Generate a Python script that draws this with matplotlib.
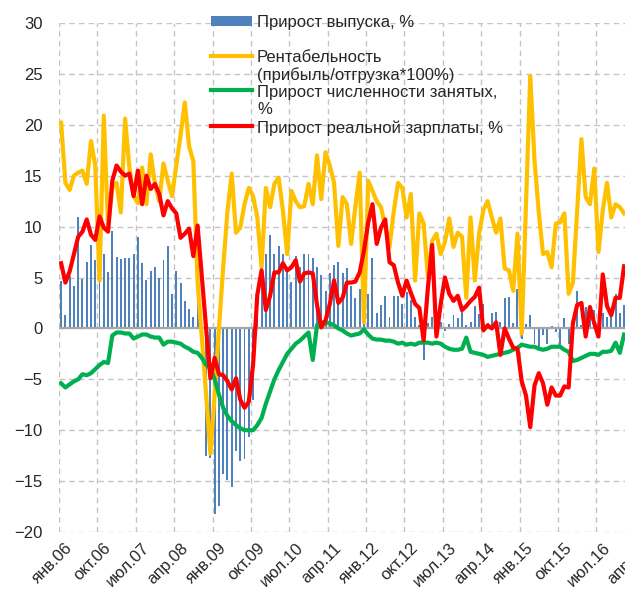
import matplotlib
matplotlib.use('Agg')
import matplotlib.pyplot as plt
import matplotlib.transforms as mtransforms
from matplotlib.lines import Line2D
from matplotlib.patches import Rectangle
import numpy as np

plt.rcParams['font.family'] = ['Liberation Sans', 'DejaVu Sans']

# ---- data (monthly, Jan 2006 .. Jan 2017) ----
output_growth = [
    4.7, 1.3, 5.1, 4.2, 10.9, 4.9, 6.5, 8.2, 6.7, 6.8,
    7.3, 5.5, 9.6, 7.0, 6.8, 6.9, 6.9, 7.3, 9.0, 6.4,
    4.8, 5.6, 6.0, 5.0, 6.7, 8.1, 3.4, 5.6, 4.5, 2.7,
    1.9, 1.1, 2.7, -1.7, -12.5, -12.7, -18.2, -17.4, -14.3, -14.9,
    -15.6, -12.0, -13.0, -12.8, -10.7, -7.0, 3.6, 8.5, 7.3, 9.2,
    7.3, 8.1, 7.3, 6.0, 4.6, 7.1, 6.0, 7.3, 7.3, 6.9,
    6.0, 5.2, 3.7, 5.4, 6.2, 6.5, 5.4, 5.9, 4.2, 3.0,
    3.9, 1.5, 3.4, 6.9, 1.5, 2.3, 3.2, 1.1, 3.2, 3.2,
    2.4, 3.6, 2.8, 1.1, 0.3, -3.1, 0.5, 1.1, 0.3, 0.6,
    -0.3, 0.4, 1.3, 1.0, 2.1, 0.3, 0.6, 2.2, 1.4, 2.4,
    0.5, 1.5, 1.6, 0.6, 3.0, 3.1, 0.5, 3.9, -1.0, 0.4,
    1.3, -1.5, -2.1, -0.6, -1.5, 0.2, -0.4, -1.9, 1.0, -1.5,
    -0.5, 3.7, 0.3, 2.1, 1.9, 1.8, 0.2, 1.5, 1.1, 1.8,
    3.4, 1.5, 2.3,
]
profitability = [
    20.2, 14.3, 13.6, 15.0, 15.3, 15.5, 14.2, 18.4, 16.0, 4.7,
    20.9, 10.0, 13.8, 14.3, 11.4, 20.6, 15.8, 13.0, 12.3, 15.8,
    12.2, 17.1, 14.2, 12.5, 16.2, 14.5, 13.0, 16.0, 19.0, 22.2,
    17.9, 16.4, 4.5, -1.0, -6.5, -12.3, -6.5, 0.0, 6.0, 11.5,
    15.2, 9.4, 9.9, 12.2, 13.8, 13.0, 10.9, 6.0, 13.8, 11.9,
    14.2, 14.8, 11.6, 7.3, 13.5, 12.5, 11.9, 12.0, 14.2, 12.2,
    17.0, 12.7, 17.3, 16.0, 14.3, 8.1, 12.9, 12.2, 8.3, 12.0,
    15.3, 0.6, 14.5, 13.5, 12.5, 11.9, 10.0, 8.0, 11.5, 14.3,
    13.8, 10.9, 13.2, 4.7, 11.3, 10.3, 5.0, 8.6, 9.3, 7.3,
    8.5, 10.8, 8.0, 9.4, 9.0, 3.0, 10.9, 4.7, 9.3, 11.6,
    12.5, 10.9, 9.4, 10.8, 5.9, 5.7, 3.7, 9.3, -0.5, 12.0,
    24.8, 16.5, 11.4, 7.3, 7.5, 6.0, 10.3, 10.4, 11.3, 3.4,
    4.5, 11.5, 18.6, 12.9, 12.2, 15.7, 7.5, 11.6, 14.3, 10.9,
    12.2, 11.9, 11.3,
]
employment = [
    -5.4, -5.8, -5.5, -5.2, -5.0, -4.5, -4.6, -4.4, -4.0, -3.6,
    -3.3, -3.4, -0.7, -0.4, -0.4, -0.5, -0.5, -1.0, -0.8, -0.6,
    -0.6, -0.8, -0.9, -0.9, -1.6, -1.3, -1.3, -1.4, -1.5, -1.8,
    -2.0, -2.3, -2.4, -2.9, -3.6, -3.9, -5.0, -6.5, -7.8, -8.6,
    -9.1, -9.5, -9.8, -10.0, -10.0, -10.0, -9.5, -8.8, -7.4, -6.2,
    -5.0, -4.1, -3.3, -2.5, -2.0, -1.5, -1.2, -0.8, -0.4, -3.1,
    0.3, 0.6, 0.6, 0.5, 0.3, 0.0, -0.2, -0.5, -0.7, -0.6,
    -0.5, -0.1, -0.6, -1.0, -1.1, -1.1, -1.2, -1.2, -1.3, -1.5,
    -1.4, -1.6, -1.5, -1.6, -1.4, -1.4, -1.4, -1.5, -1.4, -1.5,
    -1.8, -2.0, -2.1, -2.1, -2.0, -0.9, -2.3, -2.4, -2.5, -2.6,
    -2.8, -2.7, -2.6, -2.5, -2.4, -2.3, -2.1, -1.9, -1.6, -1.7,
    -1.8, -1.8, -2.0, -2.1, -2.0, -1.8, -1.8, -1.8, -2.1, -2.3,
    -3.2, -3.1, -2.9, -2.7, -2.5, -2.5, -2.6, -2.3, -2.3, -2.2,
    -1.4, -2.4, -0.6,
]
real_wage = [
    6.4, 4.5, 5.6, 7.3, 9.0, 9.5, 10.7, 9.2, 8.7, 11.0,
    9.9, 9.5, 14.5, 16.0, 15.4, 15.0, 15.2, 13.0, 15.5, 12.2,
    15.0, 13.7, 14.2, 13.2, 11.1, 12.5, 11.8, 11.3, 8.9, 9.3,
    9.8, 7.1, 10.1, 5.0, 0.0, -4.9, -2.9, -4.5, -4.6, -5.2,
    -6.0, -4.9, -7.0, -7.8, -7.2, -3.6, 3.3, 5.7, 1.8, 3.2,
    5.5, 5.5, 6.4, 5.7, 6.0, 6.7, 4.6, 5.4, 5.5, 5.4,
    2.3, 0.1, 0.8, 2.4, 4.7, 2.5, 3.0, 4.5, 4.5, 4.6,
    5.5, 7.6, 10.4, 12.2, 8.3, 9.9, 10.7, 6.5, 6.2, 4.5,
    3.2, 4.7, 3.5, 2.4, 2.0, -1.2, 4.0, 8.2, -0.8, 2.4,
    5.0, 3.4, 2.7, 3.2, 1.8, 2.2, 2.7, 3.1, 4.0, -0.2,
    0.3, 0.0, 0.6, -2.6, 0.0, -1.0, -1.9, -2.0, -5.2, -6.6,
    -9.7, -5.6, -4.4, -5.4, -7.5, -5.8, -6.6, -6.6, -5.7, -5.8,
    0.5, 2.3, 2.5, -0.8, 2.1, 0.5, -0.8, 5.3, 2.2, 1.3,
    3.0, 3.0, 6.1,
]
tick_labels = ['янв.06', 'окт.06', 'июл.07', 'апр.08', 'янв.09', 'окт.09',
               'июл.10', 'апр.11', 'янв.12', 'окт.12', 'июл.13', 'апр.14',
               'янв.15', 'окт.15', 'июл.16', 'апр.17']
legend_labels = [
    ['Прирост выпуска, %'],
    ['Рентабельность', '(прибыль/отгрузка*100%)'],
    ['Прирост численности занятых,', '%'],
    ['Прирост реальной зарплаты, %'],
]

C_BLUE = '#4f81bd'
C_YEL = '#ffc000'
C_GRN = '#00b050'
C_RED = '#ff0000'

W, H = 625, 594
fig = plt.figure(figsize=(W / 100, H / 100), dpi=100)
ax = fig.add_axes([59 / W, 62 / H, 580 / W, 509 / H])

x = np.arange(len(output_growth)) + 0.5
ax.bar(x, output_growth, width=0.45, color=C_BLUE, zorder=2, linewidth=0)
ax.axhline(0, color='#a6a6a6', lw=1.6, zorder=2.5)
ax.plot(x, profitability, color=C_YEL, lw=3.0, zorder=3, solid_joinstyle='round')
ax.plot(x, employment, color=C_GRN, lw=3.0, zorder=4, solid_joinstyle='round')
ax.plot(x, real_wage, color=C_RED, lw=3.0, zorder=5, solid_joinstyle='round')

ax.set_xlim(0, 136)
ax.set_ylim(-20, 30)
ax.set_yticks(np.arange(-20, 31, 5))
ax.set_xticks(np.arange(0, 9 * len(tick_labels), 9))
ax.set_xticklabels(tick_labels, rotation=45, ha='right', va='top',
                   rotation_mode='anchor')
for s in ax.spines.values():
    s.set_visible(False)
ax.tick_params(axis='both', length=0, labelsize=12, labelcolor='#262626')
ax.tick_params(axis='y', pad=12)
ax.tick_params(axis='x', pad=6)
offset = mtransforms.ScaledTranslation(6 / 100, 0, fig.dpi_scale_trans)
for lab in ax.get_xticklabels():
    lab.set_transform(lab.get_transform() + offset)
ax.grid(True, color='#c4c4c4', linestyle=(0, (4, 3)), lw=1.0)
ax.set_axisbelow(True)

# ---- legend (Excel-style, drawn in figure pixels) ----
def fx(px):
    return px / W

def fy(py):
    return 1 - py / H

rows_y = [21, 56, 90, 126]
hx0, hx1, tx = 211, 252, 257
fig.add_artist(Rectangle((fx(hx0), fy(26)), fx(hx1) - fx(hx0), fy(16) - fy(26),
                         transform=fig.transFigure, color=C_BLUE, lw=0))
for yy, col in zip(rows_y[1:], [C_YEL, C_GRN, C_RED]):
    fig.add_artist(Line2D([fx(hx0), fx(hx1)], [fy(yy), fy(yy)],
                          transform=fig.transFigure, color=col, lw=3.0))
for yy, lines in zip(rows_y, legend_labels):
    for i, t in enumerate(lines):
        fig.text(fx(tx), fy(yy + 6.5 + 17.5 * i), t, fontsize=12,
                 color='#262626', va='baseline', ha='left')

fig.savefig('out.png', dpi=100)
